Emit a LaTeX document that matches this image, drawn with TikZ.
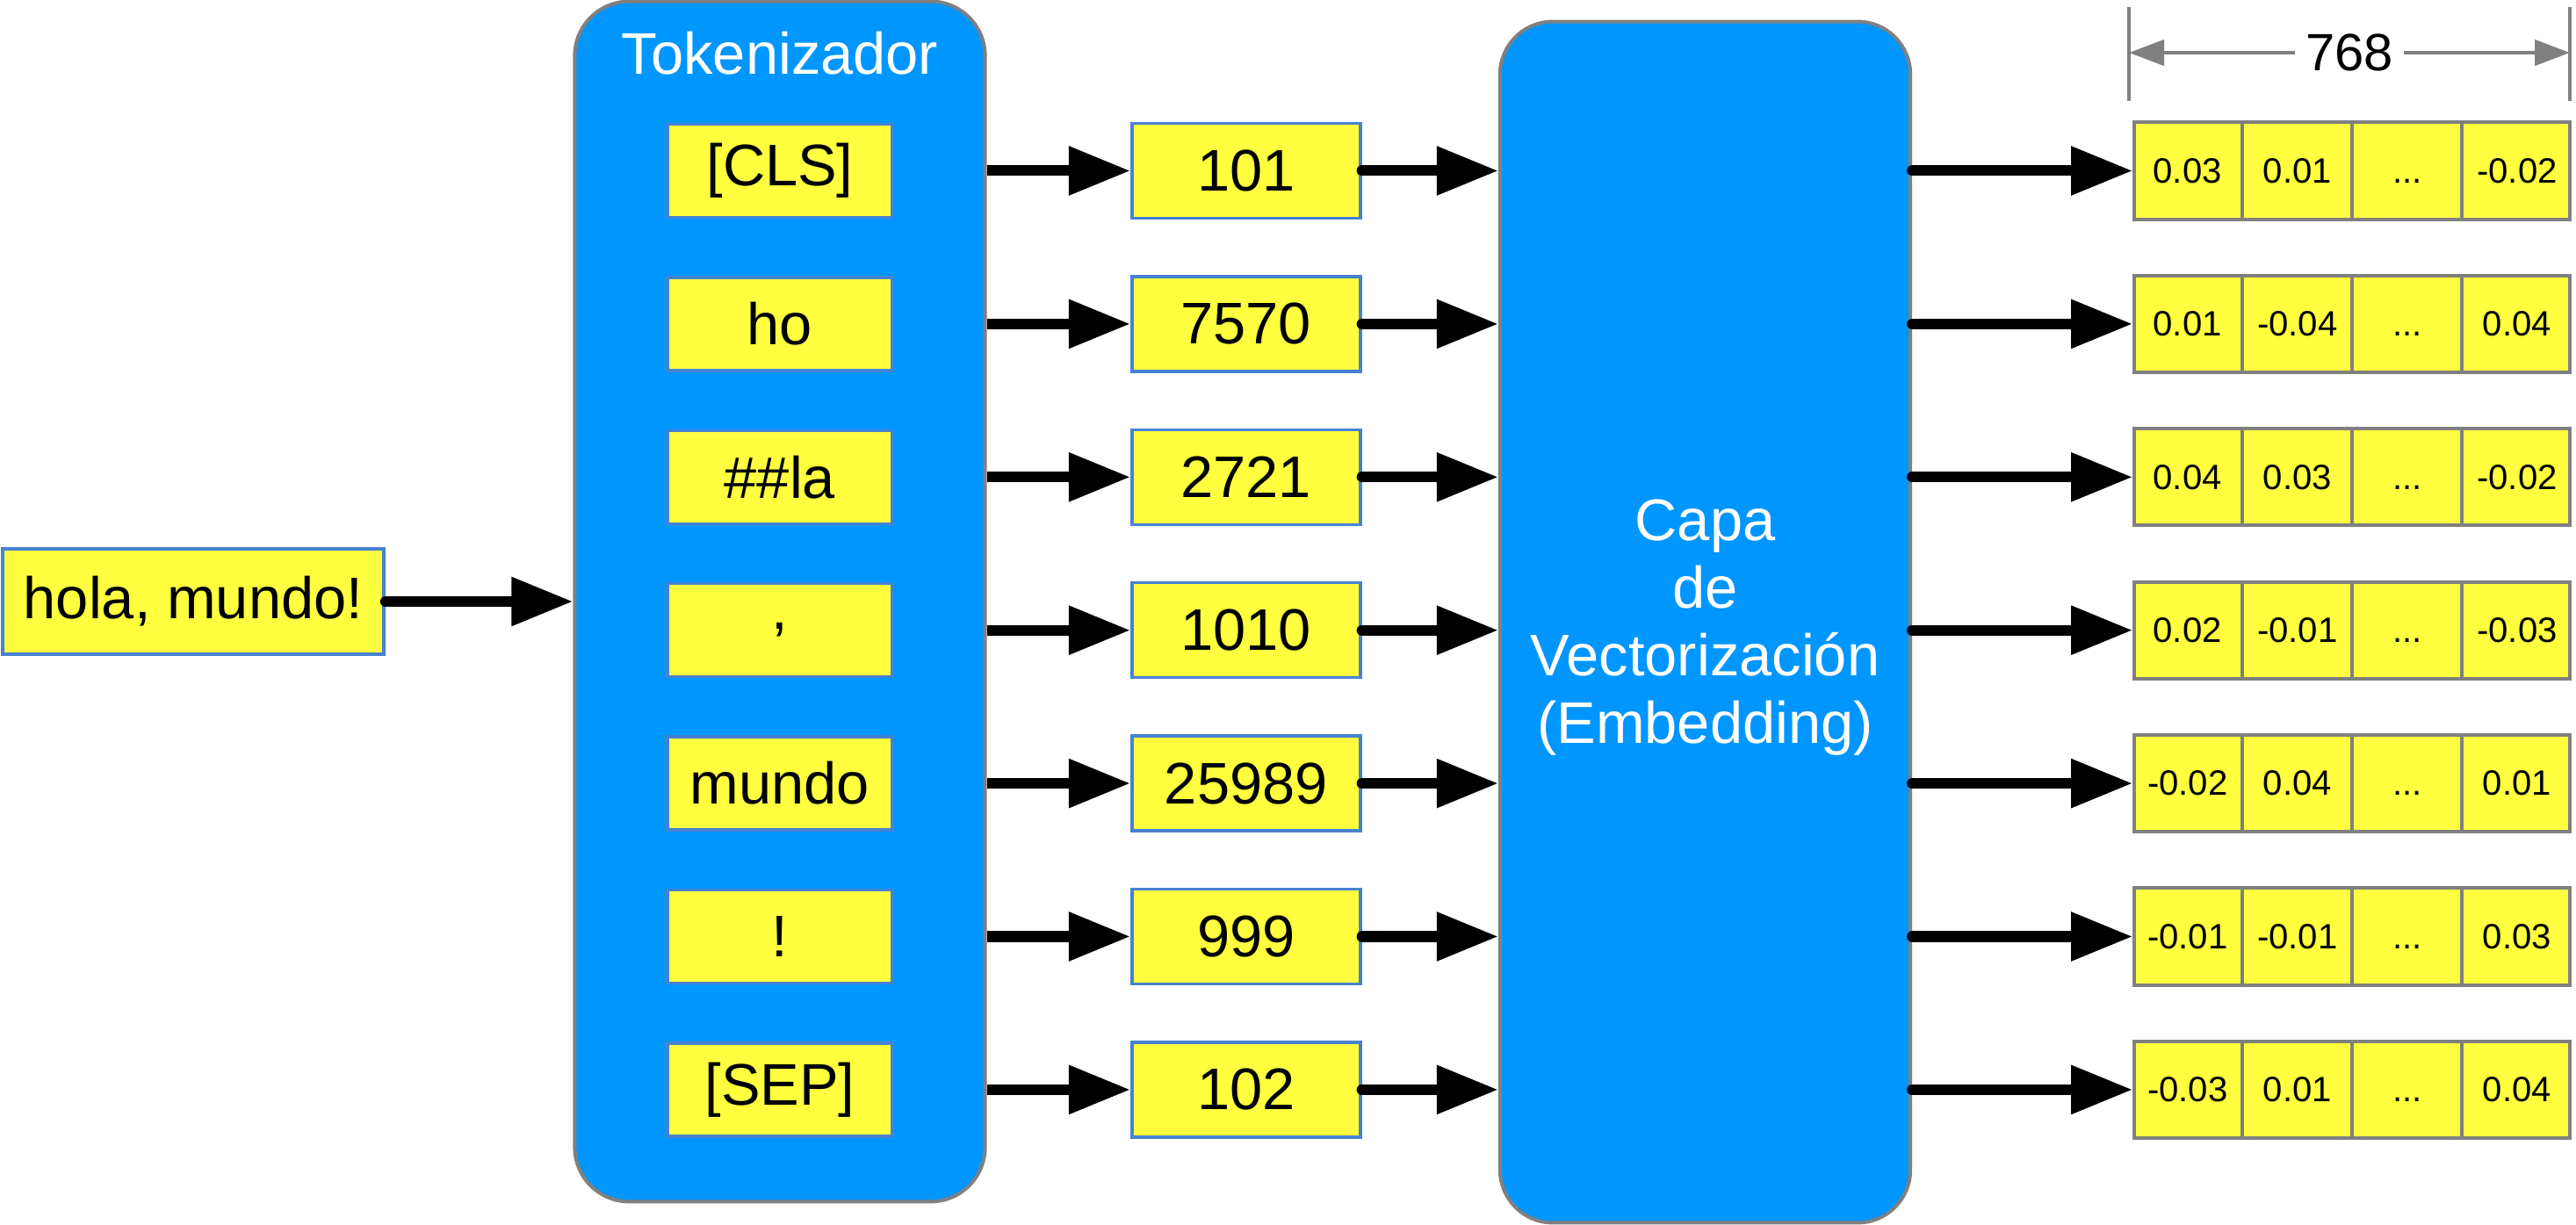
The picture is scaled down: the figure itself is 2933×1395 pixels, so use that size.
\documentclass[tikz,border=0pt]{standalone}
\usepackage{fontspec}
\setmainfont{Liberation Sans}
\usepackage{xcolor}
\usepackage{tikz}
\usetikzlibrary{shapes,arrows.meta,positioning}
\definecolor{layerblue}{RGB}{0,150,255}
\definecolor{tokyellow}{RGB}{255,255,64}
\definecolor{edgeblue}{RGB}{70,130,210}
\newcommand{\vcell}[1]{\makebox[1.21cm]{\vphantom{0}#1}}
\tikzset{
  every node/.style={
    font=\fontsize{19}{22}\selectfont
  },
  block/.style={
    shape=rectangle,
    rounded corners=0.62cm,
    draw=gray,
    line width=0.04cm,
    fill=layerblue,
    minimum width=4.67cm
  },
  piece/.style={
    shape=rectangle,
    draw=edgeblue,
    line width=0.035cm,
    fill=tokyellow,
    minimum width=2.56cm,
    minimum height=1.06cm,
    inner sep=0pt
  },
  ident/.style={
    piece,
    minimum width=2.6cm,
    minimum height=1.08cm
  },
  vector/.style={
    rectangle split,
    rectangle split horizontal,
    rectangle split parts=4,
    draw=gray,
    line width=0.04cm,
    fill=tokyellow,
    minimum height=1.1cm,
    inner xsep=0pt,
    font=\fontsize{11.4}{13}\selectfont
  },
  flow/.style={
    line width=0.12cm,
    line cap=round,
    -{Triangle[length=0.7cm,width=0.53cm]}
  },
  measure/.style={
    draw=gray,
    line width=0.045cm
  }
}

\begin{document}
\begin{tikzpicture}[x=0.01cm,y=-0.01cm]
    \useasboundingbox[fill=white] (0,0) rectangle (2933,1395);
    % tokenizer and embedding layer
    \node [block, minimum height=13.66cm] (tok) at (888,685) {};
    \node [anchor=base, text=white] (toktitle) at (888,85) {Tokenizador};
    \node [block, rounded corners=0.6cm, minimum height=13.67cm] (capa) at (1941.5,708.5) {};
    \node [text=white, align=center, font=\fontsize{19}{21.9}\selectfont] (capatext) at (1941.5,715)
      {Capa\\de\\Vectorización\\(Embedding)};
    % input sentence
    \node [piece, minimum width=4.34cm, minimum height=1.2cm] (phrase) at (220,685) {hola, mundo!};
    % tokens
    \node [piece] (t1) at (888,194.5) {[CLS]};
    \node [piece, below=0.648cm of t1] (t2) {ho};
    \node [piece, below=0.648cm of t2] (t3) {\#\#la};
    \node [piece, below=0.648cm of t3] (t4) {,};
    \node [piece, below=0.648cm of t4] (t5) {mundo};
    \node [piece, below=0.648cm of t5] (t6) {!};
    \node [piece, below=0.648cm of t6] (t7) {[SEP]};
    % token ids
    \node [ident, right=2.69cm of t1] (i1) {101};
    \node [ident, right=2.69cm of t2] (i2) {7570};
    \node [ident, right=2.69cm of t3] (i3) {2721};
    \node [ident, right=2.69cm of t4] (i4) {1010};
    \node [ident, right=2.69cm of t5] (i5) {25989};
    \node [ident, right=2.69cm of t6] (i6) {999};
    \node [ident, right=2.69cm of t7] (i7) {102};
    % embedding vectors
    \node [vector, right=8.77cm of i1] (v1)
      {\vcell{0.03}\nodepart{two}\vcell{0.01}\nodepart{three}\vcell{...}\nodepart{four}\vcell{-0.02}};
    \node [vector, right=8.77cm of i2] (v2)
      {\vcell{0.01}\nodepart{two}\vcell{-0.04}\nodepart{three}\vcell{...}\nodepart{four}\vcell{0.04}};
    \node [vector, right=8.77cm of i3] (v3)
      {\vcell{0.04}\nodepart{two}\vcell{0.03}\nodepart{three}\vcell{...}\nodepart{four}\vcell{-0.02}};
    \node [vector, right=8.77cm of i4] (v4)
      {\vcell{0.02}\nodepart{two}\vcell{-0.01}\nodepart{three}\vcell{...}\nodepart{four}\vcell{-0.03}};
    \node [vector, right=8.77cm of i5] (v5)
      {\vcell{-0.02}\nodepart{two}\vcell{0.04}\nodepart{three}\vcell{...}\nodepart{four}\vcell{0.01}};
    \node [vector, right=8.77cm of i6] (v6)
      {\vcell{-0.01}\nodepart{two}\vcell{-0.01}\nodepart{three}\vcell{...}\nodepart{four}\vcell{0.03}};
    \node [vector, right=8.77cm of i7] (v7)
      {\vcell{-0.03}\nodepart{two}\vcell{0.01}\nodepart{three}\vcell{...}\nodepart{four}\vcell{0.04}};
    % connectors
    \draw [flow] (phrase.east) -- (phrase.east -| tok.west);
    \foreach \n in {1,...,7} {
      \draw [flow, line cap=butt] (tok.east |- i\n) -- (i\n.west);
      \draw [flow] (i\n.east) -- (i\n -| capa.west);
      \draw [flow] (capa.east |- v\n) -- (v\n.west);
    }
    % width of a vector
    \coordinate (dimL) at (2424,8);
    \coordinate (dimR) at (2926,8);
    \draw [measure] (dimL) -- ++(0,107);
    \draw [measure] (dimR) -- ++(0,107);
    \draw [measure, {Triangle[length=0.4cm,width=0.29cm]}-{Triangle[length=0.4cm,width=0.29cm]}]
      ([yshift=-0.52cm]dimL) -- node [fill=white, inner xsep=0.12cm, font=\fontsize{17}{20}\selectfont] (dimtext) {768}
      ([yshift=-0.52cm]dimR);
\end{tikzpicture}
\end{document}
